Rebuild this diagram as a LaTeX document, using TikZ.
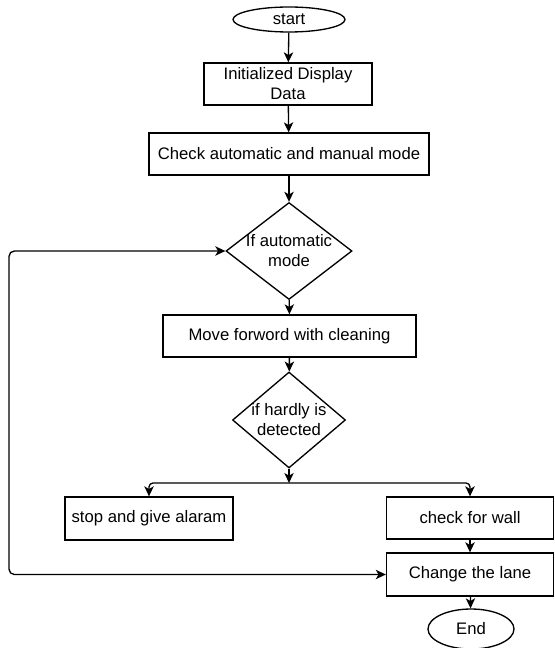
\documentclass[tikz,border=0pt]{standalone}
\usepackage{fontspec}
\setmainfont{Liberation Sans}
\usetikzlibrary{shapes.geometric,arrows.meta}

\newcommand{\chartfont}{\fontsize{12.5}{15}\selectfont}
\tikzset{every picture/.style={line width=1pt}}
\tikzset{
  terminal/.style={draw,ellipse,inner sep=0pt,font=\chartfont},
  process/.style={draw,rectangle,inner sep=0pt,align=center,font=\chartfont,minimum height=31.5pt},
  decision/.style={draw,diamond,inner sep=0pt},
  decisiontext/.style={inner sep=0pt,align=center,font=\chartfont},
  flowtip/.tip={Stealth[length=7.5pt,width=7pt,inset=2pt]},
  flow/.style={-flowtip}
}

\begin{document}
\begin{tikzpicture}[x=0.75pt,y=0.75pt,yscale=-1,xscale=1]
	\useasboundingbox (0,0) rectangle (554,648);
	%Shape: Ellipse [start]
	\node[terminal,minimum width=84pt,minimum height=18.75pt] (start) at (289,19.5) {start};
	%Shape: Rectangle [init]
	\node[process,minimum width=126pt] (init) at (288,84) {Initialized Display\\Data};
	%Shape: Rectangle [check]
	\node[process,minimum width=210pt] (check) at (289,154) {Check automatic and manual mode};
	%Shape: Diamond [automode]
	\node[decision,minimum width=94.5pt,minimum height=72.75pt] (automode) at (289,251) {};
	%Shape: Rectangle [move]
	\node[process,minimum width=189.75pt] (move) at (289.5,336) {Move forword with cleaning};
	%Shape: Diamond [hardly]
	\node[decision,minimum width=84.75pt,minimum height=72pt] (hardly) at (289,420) {};
	%Shape: Rectangle [stopalarm]
	\node[process,minimum width=126pt,minimum height=32.25pt] (stopalarm) at (149,518.5) {stop and give alaram};
	%Shape: Rectangle [wall]
	\node[process,minimum width=125.25pt] (wall) at (470,518) {check for wall};
	%Shape: Rectangle [lane]
	\node[process,minimum width=125.25pt,minimum height=32.25pt] (lane) at (470,574.5) {Change the lane};
	%Shape: Ellipse [finish]
	\node[terminal,minimum width=64.5pt,minimum height=30pt] (finish) at (471,629) {End};

	% Text Node
	\node[decisiontext] (automodetext) at (automode) {If automatic\\mode};
	% Text Node
	\node[decisiontext] (hardlytext) at (hardly) {if hardly is\\detected};

	%Straight Lines
	\draw[flow] (start) -- (init);
	\draw[flow] (init) -- (check);
	\draw[flow] (check) -- (automode);
	\draw[flow] (automode) -- (move);
	\draw[flow] (move) -- (hardly);
	\draw[flow] (wall) -- (lane);
	\draw[flow] (lane) -- (finish);

	%Connector: branch
	\coordinate (split) at (289,483);
	\draw[flow] (hardly.south) -- (split);
	\draw[flow,rounded corners=3pt] (split) -| (stopalarm.north);
	\draw[flow,rounded corners=3pt] (split) -| (wall.north);

	%Connector: loop back
	\coordinate (looptop) at (9,251);
	\coordinate (loopbot) at (9,574.5);
	\draw[flowtip-flowtip,rounded corners=4pt] (automode.west) -- (looptop) -- (loopbot) -- (lane.west);
\end{tikzpicture}
\end{document}
